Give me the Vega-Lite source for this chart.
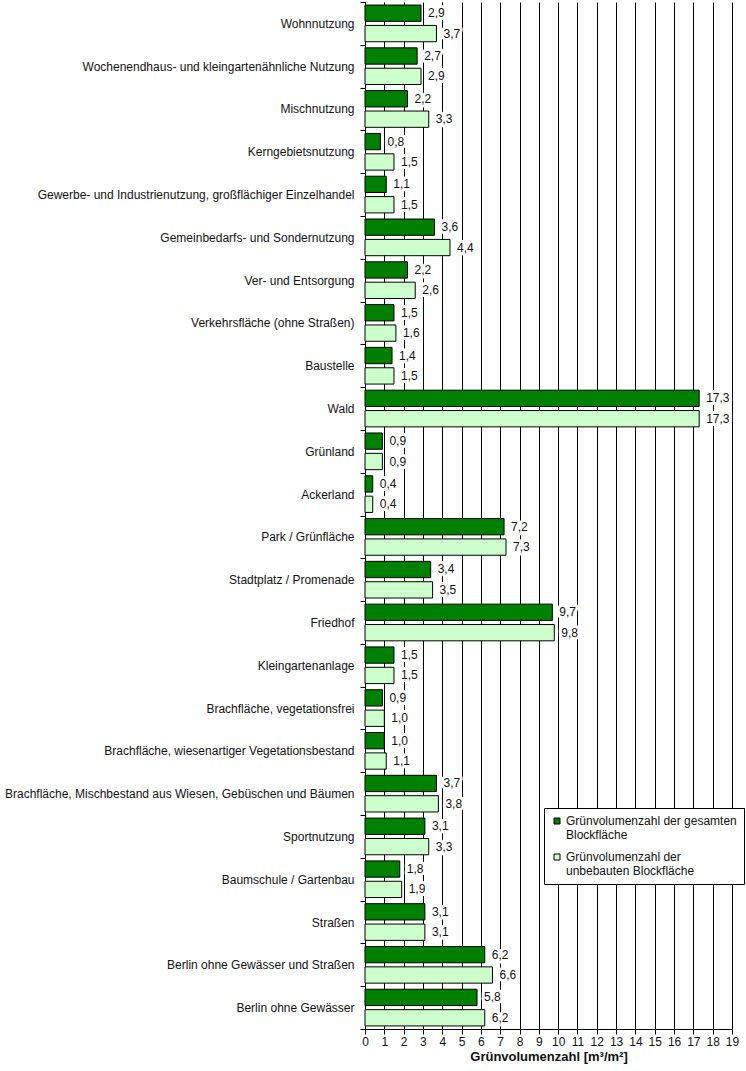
{
  "$schema": "https://vega.github.io/schema/vega-lite/v6.json",
  "autosize": {"type": "none"},
  "padding": {"left": 365, "top": 2, "right": 14, "bottom": 42},
  "width": 367,
  "height": 1027,
  "background": "white",
  "config": {
    "font": "Liberation Sans",
    "view": {"stroke": null},
    "locale": {"number": {"decimal": ",", "thousands": ".", "grouping": [3], "currency": ["", " €"]}}
  },
  "data": {"values": [
    {"kat": "Wohnnutzung", "serie": "gesamt", "wert": 2.9},
    {"kat": "Wohnnutzung", "serie": "unbebaut", "wert": 3.7},
    {"kat": "Wochenendhaus- und kleingartenähnliche Nutzung", "serie": "gesamt", "wert": 2.7},
    {"kat": "Wochenendhaus- und kleingartenähnliche Nutzung", "serie": "unbebaut", "wert": 2.9},
    {"kat": "Mischnutzung", "serie": "gesamt", "wert": 2.2},
    {"kat": "Mischnutzung", "serie": "unbebaut", "wert": 3.3},
    {"kat": "Kerngebietsnutzung", "serie": "gesamt", "wert": 0.8},
    {"kat": "Kerngebietsnutzung", "serie": "unbebaut", "wert": 1.5},
    {"kat": "Gewerbe- und Industrienutzung, großflächiger Einzelhandel", "serie": "gesamt", "wert": 1.1},
    {"kat": "Gewerbe- und Industrienutzung, großflächiger Einzelhandel", "serie": "unbebaut", "wert": 1.5},
    {"kat": "Gemeinbedarfs- und Sondernutzung", "serie": "gesamt", "wert": 3.6},
    {"kat": "Gemeinbedarfs- und Sondernutzung", "serie": "unbebaut", "wert": 4.4},
    {"kat": "Ver- und Entsorgung", "serie": "gesamt", "wert": 2.2},
    {"kat": "Ver- und Entsorgung", "serie": "unbebaut", "wert": 2.6},
    {"kat": "Verkehrsfläche (ohne Straßen)", "serie": "gesamt", "wert": 1.5},
    {"kat": "Verkehrsfläche (ohne Straßen)", "serie": "unbebaut", "wert": 1.6},
    {"kat": "Baustelle", "serie": "gesamt", "wert": 1.4},
    {"kat": "Baustelle", "serie": "unbebaut", "wert": 1.5},
    {"kat": "Wald", "serie": "gesamt", "wert": 17.3},
    {"kat": "Wald", "serie": "unbebaut", "wert": 17.3},
    {"kat": "Grünland", "serie": "gesamt", "wert": 0.9},
    {"kat": "Grünland", "serie": "unbebaut", "wert": 0.9},
    {"kat": "Ackerland", "serie": "gesamt", "wert": 0.4},
    {"kat": "Ackerland", "serie": "unbebaut", "wert": 0.4},
    {"kat": "Park / Grünfläche", "serie": "gesamt", "wert": 7.2},
    {"kat": "Park / Grünfläche", "serie": "unbebaut", "wert": 7.3},
    {"kat": "Stadtplatz / Promenade", "serie": "gesamt", "wert": 3.4},
    {"kat": "Stadtplatz / Promenade", "serie": "unbebaut", "wert": 3.5},
    {"kat": "Friedhof", "serie": "gesamt", "wert": 9.7},
    {"kat": "Friedhof", "serie": "unbebaut", "wert": 9.8},
    {"kat": "Kleingartenanlage", "serie": "gesamt", "wert": 1.5},
    {"kat": "Kleingartenanlage", "serie": "unbebaut", "wert": 1.5},
    {"kat": "Brachfläche, vegetationsfrei", "serie": "gesamt", "wert": 0.9},
    {"kat": "Brachfläche, vegetationsfrei", "serie": "unbebaut", "wert": 1.0},
    {"kat": "Brachfläche, wiesenartiger Vegetationsbestand", "serie": "gesamt", "wert": 1.0},
    {"kat": "Brachfläche, wiesenartiger Vegetationsbestand", "serie": "unbebaut", "wert": 1.1},
    {"kat": "Brachfläche, Mischbestand aus Wiesen, Gebüschen und Bäumen", "serie": "gesamt", "wert": 3.7},
    {"kat": "Brachfläche, Mischbestand aus Wiesen, Gebüschen und Bäumen", "serie": "unbebaut", "wert": 3.8},
    {"kat": "Sportnutzung", "serie": "gesamt", "wert": 3.1},
    {"kat": "Sportnutzung", "serie": "unbebaut", "wert": 3.3},
    {"kat": "Baumschule / Gartenbau", "serie": "gesamt", "wert": 1.8},
    {"kat": "Baumschule / Gartenbau", "serie": "unbebaut", "wert": 1.9},
    {"kat": "Straßen", "serie": "gesamt", "wert": 3.1},
    {"kat": "Straßen", "serie": "unbebaut", "wert": 3.1},
    {"kat": "Berlin ohne Gewässer und Straßen", "serie": "gesamt", "wert": 6.2},
    {"kat": "Berlin ohne Gewässer und Straßen", "serie": "unbebaut", "wert": 6.6},
    {"kat": "Berlin ohne Gewässer", "serie": "gesamt", "wert": 5.8},
    {"kat": "Berlin ohne Gewässer", "serie": "unbebaut", "wert": 6.2}
  ]},
  "encoding": {
    "y": {
      "field": "kat", "type": "nominal", "sort": null,
      "scale": {"paddingInner": 0, "paddingOuter": 0},
      "axis": {
        "title": null, "domainColor": "black", "tickColor": "black", "tickBand": "extent",
        "tickSize": 5, "labelPadding": 6, "labelFontSize": 12, "labelColor": "#111",
        "labelLimit": 400, "grid": false
      }
    },
    "yOffset": {"field": "serie", "type": "nominal", "scale": {"paddingInner": 0.2, "paddingOuter": 0.15}},
    "x": {
      "field": "wert", "type": "quantitative",
      "scale": {"domain": [0, 19], "nice": false, "zero": true},
      "axis": {
        "values": [0,1,2,3,4,5,6,7,8,9,10,11,12,13,14,15,16,17,18,19],
        "format": "d", "grid": true, "gridColor": "black", "gridOpacity": 1, "gridWidth": 1,
        "domainColor": "black", "tickColor": "black", "tickSize": 5,
        "labelFontSize": 12, "labelColor": "#111", "labelPadding": 2, "labelFlush": false,
        "title": "Grünvolumenzahl [m³/m²]", "titleFontSize": 13, "titleFontWeight": "bold",
        "titleColor": "#111", "titlePadding": 3
      }
    }
  },
  "layer": [
    {
      "mark": {"type": "bar", "stroke": "black", "strokeWidth": 1},
      "encoding": {
        "fill": {
          "field": "serie", "type": "nominal",
          "scale": {"domain": ["gesamt", "unbebaut"], "range": ["#008000", "#ccffcc"]},
          "legend": {
            "title": null, "orient": "none", "legendX": 179, "legendY": 806,
            "fillColor": "white", "strokeColor": "black", "padding": 7,
            "symbolType": "square", "symbolSize": 36, "symbolStrokeColor": "black", "symbolStrokeWidth": 1,
            "labelFontSize": 12, "labelColor": "#111", "labelLimit": 300, "rowPadding": 10, "labelOffset": 3,
            "labelExpr": "datum.label == 'gesamt' ? ['Grünvolumenzahl der gesamten', 'Blockfläche'] : ['Grünvolumenzahl der', 'unbebauten Blockfläche']"
          }
        }
      }
    },
    {
      "mark": {"type": "text", "align": "left", "baseline": "middle", "dx": 7, "fontSize": 12, "color": "white", "stroke": "white", "strokeWidth": 6, "strokeJoin": "round"},
      "encoding": {
        "text": {"field": "wert", "type": "quantitative", "format": ".1f"}
      }
    },
    {
      "mark": {"type": "text", "align": "left", "baseline": "middle", "dx": 7, "fontSize": 12, "color": "#111"},
      "encoding": {
        "text": {"field": "wert", "type": "quantitative", "format": ".1f"}
      }
    }
  ]
}
